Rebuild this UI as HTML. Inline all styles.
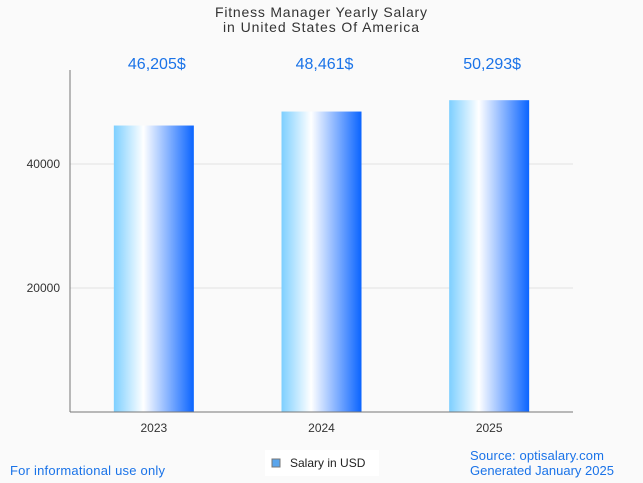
<!DOCTYPE html>
<html><head><meta charset="utf-8"><style>
body{margin:0;background:#fafafa;font-family:"Liberation Sans",sans-serif;}
svg{display:block}
</style></head><body>
<svg id="chart" width="643" height="483" viewBox="0 0 643 483">
<defs><linearGradient id="bg" x1="0" x2="1" y1="0" y2="0">
<stop offset="0" stop-color="#7dcfff"/><stop offset="0.37" stop-color="#ffffff"/><stop offset="1" stop-color="#0a64ff"/>
</linearGradient></defs>
<rect width="643" height="483" fill="#fafafa"/>
<text x="321" y="17" text-anchor="middle" font-size="14" textLength="212" fill="#333">Fitness Manager Yearly Salary</text>
<text x="321" y="32" text-anchor="middle" font-size="14" textLength="196" fill="#333">in United States Of America</text>
<g id="grid"></g>
<g id="bars"></g>
<line x1="70" y1="70" x2="70" y2="412" stroke="#777"/>
<line x1="70" y1="412" x2="573" y2="412" stroke="#777"/>
<g id="xlabels"></g>
<rect x="265" y="450" width="114" height="26" fill="#fff"/>
<rect x="272" y="459" width="8" height="8" fill="#5aa5ec" stroke="#777" stroke-width="1"/>
<text x="290" y="467" font-size="12" fill="#222">Salary in USD</text>
<text x="10" y="475" font-size="13" textLength="155" fill="#1a73e8">For informational use only</text>
<text x="470" y="460" font-size="13" textLength="134" fill="#1a73e8">Source: optisalary.com</text>
<text x="470" y="475" font-size="13" textLength="144" fill="#1a73e8">Generated January 2025</text>
</svg>
<script>
const categories=["2023","2024","2025"];
const values=[46205,48461,50293];
const valueLabels=["46,205$","48,461$","50,293$"];
const ticks=[20000,40000];
const ns="http://www.w3.org/2000/svg";
const x0=70,x1=573,yBase=412,scale=124/20000;
const y=v=>yBase-v*scale;
const band=(x1-x0)/categories.length;
const bx=i=>x0+band*i+band/2;
function mk(tag,attrs,parent,txt){const e=document.createElementNS(ns,tag);for(const k in attrs)e.setAttribute(k,attrs[k]);if(txt!==undefined)e.textContent=txt;parent.appendChild(e);return e;}
const grid=document.getElementById('grid'),bars=document.getElementById('bars'),xl=document.getElementById('xlabels');
ticks.forEach(t=>{
 const l=mk('line',{x1:x0,x2:x1,y1:y(t),y2:y(t),stroke:'#e2e2e2'},grid);
 
 
 const tx=mk('text',{x:x0-10,y:y(t)+4,'text-anchor':'end','font-size':12,fill:'#333'},grid,String(t));
 
 
});
categories.forEach((c,i)=>{
 const r=mk('rect',{x:bx(i)-40,y:y(values[i]),width:80,height:yBase-y(values[i]),fill:'url(#bg)'},bars);
 
 
 const v=mk('text',{x:bx(i)+3,y:69,'text-anchor':'middle','font-size':16,fill:'#1a73e8'},bars,valueLabels[i]);
 
 
 const t=mk('text',{x:bx(i),y:432,'text-anchor':'middle','font-size':12,fill:'#333'},xl,c);
 
 
});
</script>
</body></html>
